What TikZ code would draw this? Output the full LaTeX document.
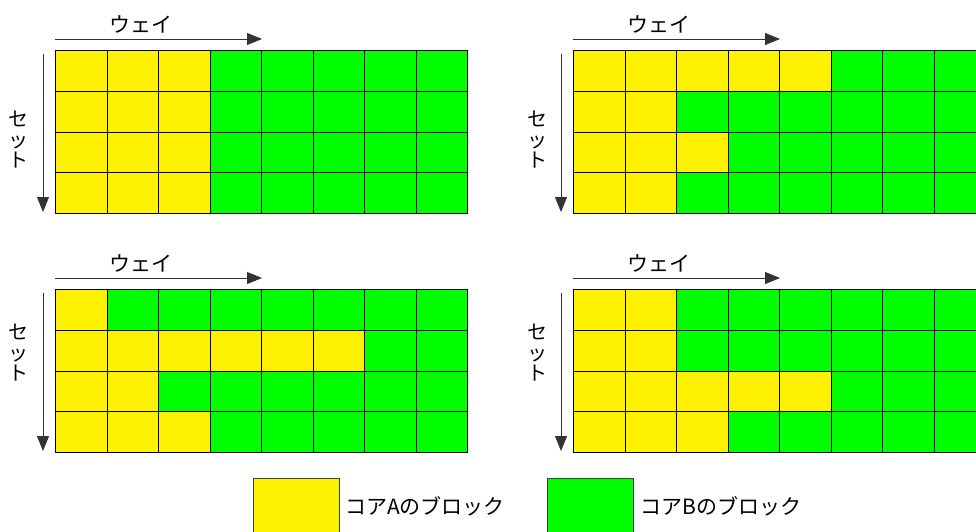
\documentclass[tikz,border=0pt]{standalone}
\usepackage{fontspec}
\setmainfont{Noto Sans CJK JP}
\usetikzlibrary{arrows.meta}

\begin{document}
\begin{tikzpicture}[x=1pt,y=-1pt,
  cell/.style={draw=black,line width=0.8pt,minimum width=51.5pt,
    minimum height=40.75pt,inner sep=0pt,anchor=north west},
  coreA/.style={cell,fill=yellow},
  coreB/.style={cell,fill=green},
  axis/.style={draw=black!80,line width=0.9pt,-{Triangle[length=15pt,width=12pt]}},
  axislabel/.style={font=\fontsize{21}{19.5}\selectfont,inner sep=0pt,align=center},
  setlabel/.style={axislabel,font=\fontsize{20}{20.5}\selectfont}]
  \useasboundingbox (0,0) rectangle (976,531);
  \clip (0,0) rectangle (976,531);

  % four cache snapshots: name / origin / set-label offset / yellow ways per set
  \foreach \grid/\gx/\gy/\ty/\counts in
    {tl/55/50/90/{3,3,3,3}, tr/573/50/90/{5,2,3,2},
     bl/55/289/64/{1,6,2,3}, br/573/289/64/{2,2,5,3}} {
    \foreach \n [count=\r] in \counts {
      \foreach \c in {1,...,8} {
        \ifnum\c>\n \def\st{coreB}\else\def\st{coreA}\fi
        \node[\st] (\grid-\r-\c) at ({\gx+(\c-1)*51.5},{\gy+(\r-1)*40.75}) {};
      }
    }
    \coordinate (\grid-wa) at (\gx,{\gy-11});
    \coordinate (\grid-wb) at ({\gx+207},{\gy-11});
    \coordinate (\grid-sa) at ({\gx-12},{\gy+4});
    \coordinate (\grid-sb) at ({\gx-12},{\gy+162});
    \draw[axis] (\grid-wa) -- (\grid-wb);
    \draw[axis] (\grid-sa) -- (\grid-sb);
    \node[axislabel] (\grid-way) at ({\gx+86},{\gy-26}) {ウェイ};
    \node[setlabel] (\grid-set) at ({\gx-36},{\gy+\ty}) {セ\\ッ\\ト};
  }

  % legend
  \node[coreA,draw=black!75,minimum width=86pt,minimum height=60pt] (keyA) at (252.5,478) {};
  \node[axislabel,anchor=west] (keyAtext) at (345,506) {コアAのブロック};
  \node[coreB,draw=black!75,minimum width=86pt,minimum height=60pt] (keyB) at (547,478) {};
  \node[axislabel,anchor=west] (keyBtext) at (640,506) {コアBのブロック};
\end{tikzpicture}
\end{document}
